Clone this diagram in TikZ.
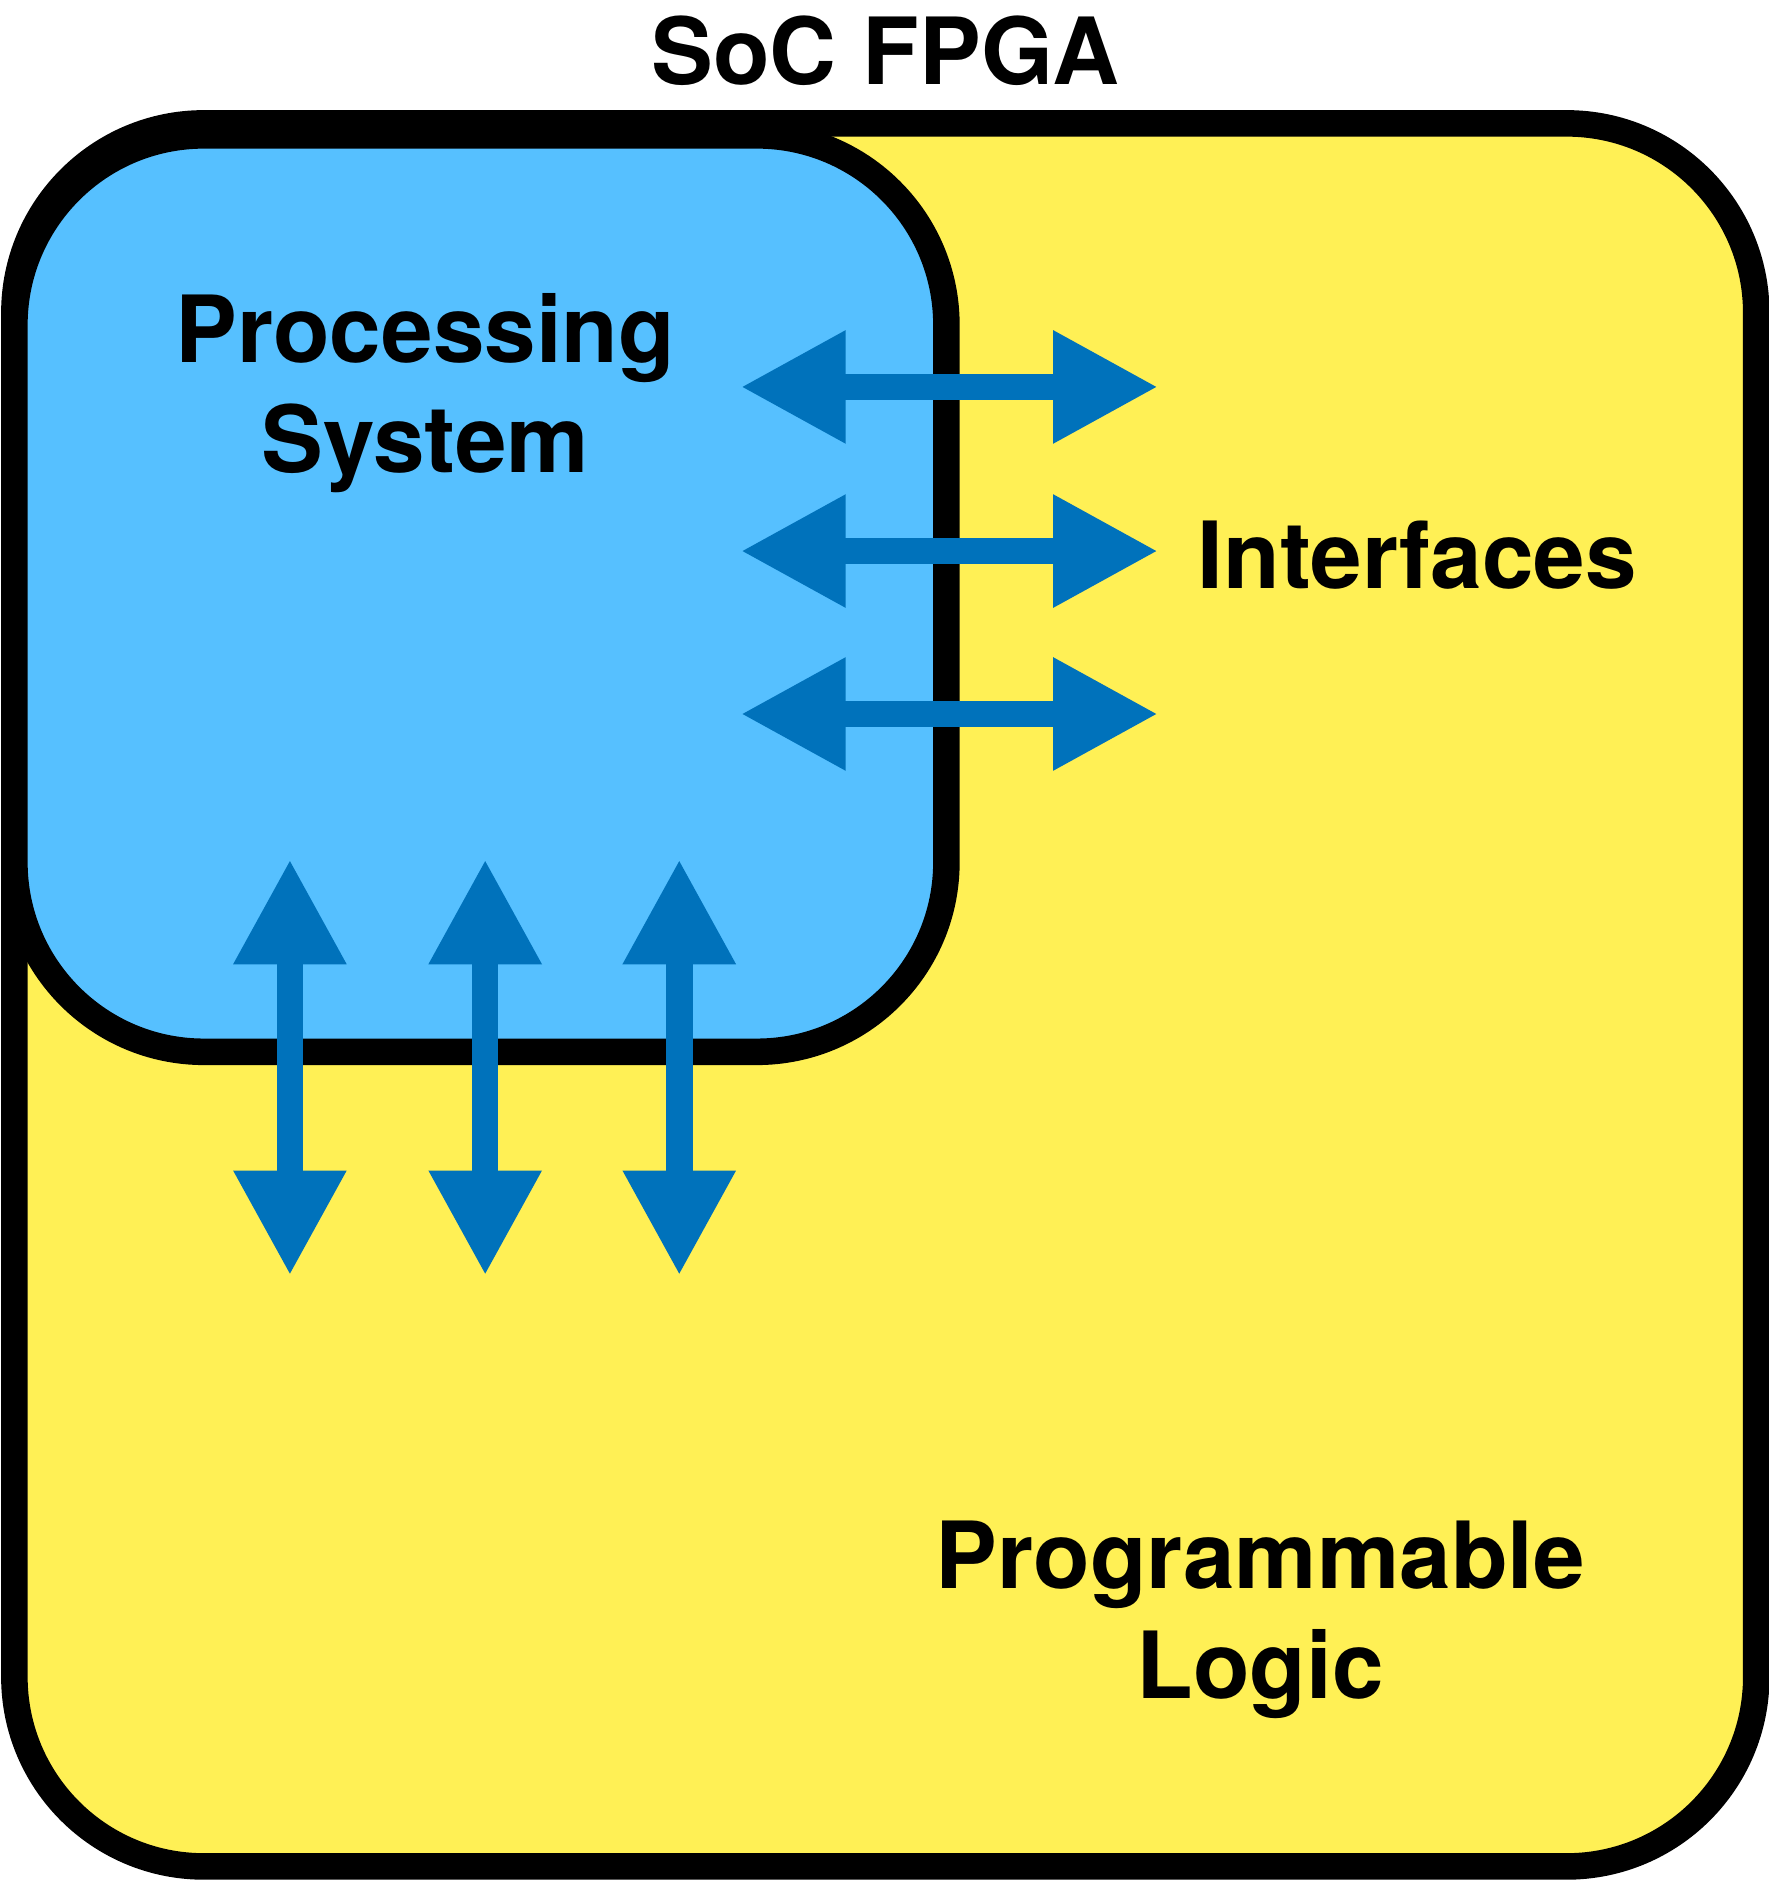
\documentclass[tikz,border=0pt]{standalone}
\usepackage{fontspec}
\setmainfont{TeX Gyre Heros}
\usetikzlibrary{arrows.meta}
\begin{document}
\begin{tikzpicture}[x=0.01cm,y=-0.01cm,
  box/.style={line width=6.3pt,rounded corners=45pt},
  lbl/.style={font=\fontsize{22}{26}\selectfont\bfseries,align=center},
  dbl/.style={color={rgb,255:red,0;green,114;blue,187},line width=6.3pt,
    {Triangle[length=25pt,width=25pt]}-{Triangle[length=25pt,width=25pt]}}]
\useasboundingbox (0,0) rectangle (1476,1571);
\draw[box,fill={rgb,255:red,255;green,240;blue,85}] (12,103) rectangle (1466,1558);
\draw[box,fill={rgb,255:red,86;green,192;blue,255}] (12,113) rectangle (790,878);
\node[lbl] (t) at (739,42) {SoC FPGA};
\node[lbl] (ps) at (355,328) {Processing\\System};
\node[lbl] (if) at (1183,463) {Interfaces};
\node[lbl] (pl) at (1052,1352) {Programmable\\Logic};
\foreach \y [count=\i] in {323,460,596}{
  \coordinate (hl\i) at (618,\y); \coordinate (hr\i) at (967,\y);
  \draw[dbl] (hl\i) -- (hr\i);}
\foreach \x [count=\i] in {242,405,567}{
  \coordinate (vt\i) at (\x,717); \coordinate (vb\i) at (\x,1065);
  \draw[dbl] (vt\i) -- (vb\i);}
\end{tikzpicture}
\end{document}
